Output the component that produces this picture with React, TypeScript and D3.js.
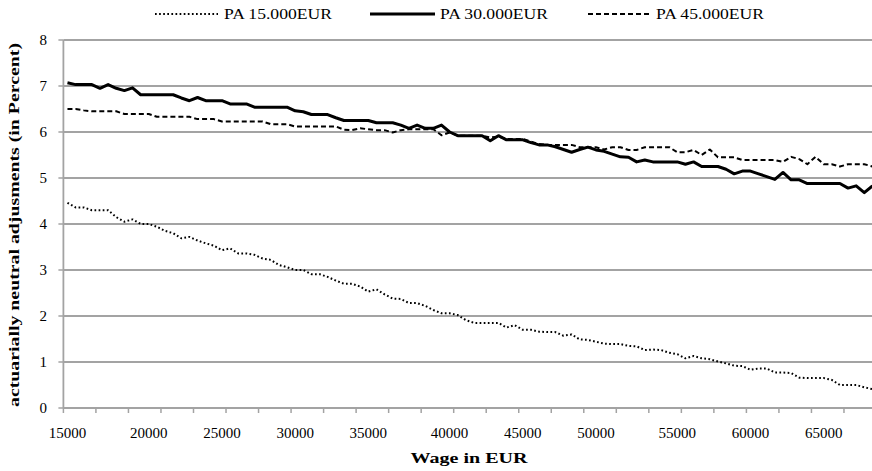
import React from "react";
import * as d3 from "d3";

const xLabels = ["15000", "20000", "25000", "30000", "35000", "40000", "45000", "50000", "55000", "60000", "65000"];
const xLabelIndex = [0, 10, 19, 28, 37, 47, 56, 65, 75, 84, 93];
const yTicks = [0, 1, 2, 3, 4, 5, 6, 7, 8];

const pa15 = [
  4.46, 4.36, 4.36, 4.3, 4.3, 4.3, 4.15, 4.05, 4.1, 4.0,
  4.0, 3.94, 3.85, 3.8, 3.69, 3.72, 3.64, 3.58, 3.53, 3.43,
  3.47, 3.36, 3.36, 3.33, 3.25, 3.22, 3.11, 3.06, 3.0, 3.0,
  2.91, 2.91, 2.85, 2.77, 2.7, 2.7, 2.64, 2.53, 2.58, 2.47,
  2.38, 2.37, 2.28, 2.28, 2.22, 2.13, 2.06, 2.06, 2.02, 1.91,
  1.85, 1.85, 1.85, 1.85, 1.75, 1.8, 1.7, 1.7, 1.66, 1.65,
  1.65, 1.57, 1.6, 1.49, 1.48, 1.44, 1.4, 1.39, 1.39, 1.35,
  1.34, 1.26, 1.27, 1.26, 1.2, 1.17, 1.08, 1.13, 1.08, 1.06,
  1.01, 0.97, 0.92, 0.91, 0.83, 0.86, 0.86, 0.77, 0.77, 0.76,
  0.66, 0.65, 0.65, 0.65, 0.61, 0.5, 0.5, 0.5, 0.45, 0.41,
];

const pa30 = [
  7.07, 7.03, 7.03, 7.03, 6.95, 7.03, 6.95, 6.9, 6.96, 6.81,
  6.81, 6.81, 6.81, 6.81, 6.74, 6.68, 6.75, 6.68, 6.68, 6.68,
  6.61, 6.61, 6.61, 6.54, 6.54, 6.54, 6.54, 6.54, 6.46, 6.44,
  6.38, 6.38, 6.38, 6.31, 6.25, 6.25, 6.25, 6.25, 6.2, 6.2,
  6.2, 6.15, 6.08, 6.15, 6.08, 6.08, 6.15, 6.0, 5.92, 5.92,
  5.92, 5.92, 5.81, 5.92, 5.83, 5.83, 5.83, 5.77, 5.72, 5.72,
  5.68, 5.62, 5.56, 5.62, 5.67, 5.61, 5.58, 5.52, 5.46, 5.45,
  5.35, 5.39, 5.35, 5.35, 5.35, 5.35, 5.3, 5.35, 5.25, 5.25,
  5.25, 5.19, 5.09, 5.15, 5.15, 5.09, 5.03, 4.97, 5.12, 4.96,
  4.96, 4.88, 4.88, 4.88, 4.88, 4.88, 4.78, 4.83, 4.68, 4.83,
];

const pa45 = [
  6.5, 6.5, 6.47, 6.45, 6.45, 6.45, 6.45, 6.39, 6.39, 6.39,
  6.39, 6.33, 6.33, 6.33, 6.33, 6.33, 6.28, 6.28, 6.28, 6.23,
  6.23, 6.23, 6.23, 6.23, 6.23, 6.17, 6.17, 6.17, 6.12, 6.12,
  6.12, 6.12, 6.12, 6.12, 6.05, 6.04, 6.08, 6.06, 6.04, 6.04,
  5.99, 6.04, 6.06, 6.06, 6.06, 6.06, 5.93, 5.99, 5.92, 5.92,
  5.92, 5.92, 5.88, 5.9, 5.85, 5.85, 5.85, 5.79, 5.74, 5.72,
  5.72, 5.72, 5.72, 5.67, 5.67, 5.67, 5.62, 5.67, 5.67, 5.61,
  5.61, 5.67, 5.67, 5.67, 5.67, 5.56, 5.56, 5.61, 5.5, 5.62,
  5.45, 5.45, 5.45, 5.39, 5.39, 5.39, 5.39, 5.39, 5.35, 5.46,
  5.41, 5.3, 5.46, 5.3, 5.3, 5.25, 5.3, 5.3, 5.3, 5.25,
];

const seriesNames = ["PA 15.000EUR", "PA 30.000EUR", "PA 45.000EUR"];

const FONT = "Liberation Serif, DejaVu Serif, serif";
const GRID = "#a3a3a3";

export default function App() {
  const W = 872;
  const H = 471;
  const left = 63.4;
  const catW = 8.131;
  const N = pa15.length;
  const top = 40;
  const bottom = 408;

  const x = d3
    .scaleBand<number>()
    .domain(d3.range(N))
    .range([left, left + N * catW])
    .padding(0);
  const cx = (i: number) => (x(i) as number) + x.bandwidth() / 2;
  const y = d3.scaleLinear().domain([0, 8]).range([bottom, top]);

  const line = d3
    .line<number>()
    .x((_, i) => cx(i))
    .y((d) => y(d));

  const series = [
    { name: seriesNames[0], data: pa15, width: 2, dash: "1.7 2.4" },
    { name: seriesNames[1], data: pa30, width: 3, dash: "" },
    { name: seriesNames[2], data: pa45, width: 2, dash: "5 3" },
  ];

  const tickIdx = d3.range(0, N + 1, 4);
  const plotRight = left + N * catW;

  const legendItems = [
    { x0: 155, x1: 218, tx: 224 },
    { x0: 370, x1: 435, tx: 440 },
    { x0: 588, x1: 650, tx: 656 },
  ];

  const txt = { fontFamily: FONT };

  return (
    <svg
      width={W}
      height={H}
      style={{ position: "absolute", left: 0, top: 0, background: "#fff", fontFamily: FONT }}
    >
      <rect width={W} height={H} fill="#fff" />
      {yTicks.map((t) => (
        <line
          key={"g" + t}
          x1={left}
          x2={plotRight}
          y1={y(t)}
          y2={y(t)}
          stroke={GRID}
          strokeWidth={1.8}
        />
      ))}
      <line x1={left} x2={left} y1={top} y2={bottom} stroke={GRID} strokeWidth={1.8} />
      {yTicks.map((t) => (
        <g key={"yt" + t}>
          <line x1={left - 5} x2={left} y1={y(t)} y2={y(t)} stroke={GRID} strokeWidth={1.5} />
          <text x={47} y={y(t)} dy="0.35em" textAnchor="end" fontSize={15} fill="#000" style={txt}>
            {t}
          </text>
        </g>
      ))}
      {tickIdx.map((i) => {
        const px = left + i * catW;
        return (
          <line key={"xt" + i} x1={px} x2={px} y1={bottom} y2={bottom + 5} stroke={GRID} strokeWidth={1.5} />
        );
      })}
      {xLabels.map((lab, k) => (
        <text
          key={"xl" + k}
          x={cx(xLabelIndex[k])}
          y={438}
          textAnchor="middle"
          fontSize={15}
          fill="#000"
          style={txt}
        >
          {lab}
        </text>
      ))}
      {series.map((s) => (
        <path
          key={s.name}
          d={line(s.data) || ""}
          fill="none"
          stroke="#000"
          strokeWidth={s.width}
          strokeDasharray={s.dash || undefined}
          strokeLinejoin="round"
        />
      ))}
      {series.map((s, k) => (
        <g key={"lg" + k}>
          <line
            x1={legendItems[k].x0}
            x2={legendItems[k].x1}
            y1={14}
            y2={14}
            stroke="#000"
            strokeWidth={s.width}
            strokeDasharray={s.dash || undefined}
          />
          <text
            x={legendItems[k].tx}
            y={14}
            dy="0.35em"
            fontSize={15.5}
            fill="#000"
            style={txt}
            textLength={108}
            lengthAdjust="spacingAndGlyphs"
          >
            {s.name}
          </text>
        </g>
      ))}
      <text
        x={469}
        y={463}
        textAnchor="middle"
        fontSize={15}
        fontWeight="bold"
        fill="#000"
        style={txt}
        textLength={117}
        lengthAdjust="spacingAndGlyphs"
      >
        Wage in EUR
      </text>
      <text
        transform={`translate(19,225) rotate(-90)`}
        textAnchor="middle"
        fontSize={15}
        fontWeight="bold"
        fill="#000"
        style={txt}
        textLength={364}
        lengthAdjust="spacingAndGlyphs"
      >
        actuarially neutral adjusments (in Percent)
      </text>
    </svg>
  );
}
